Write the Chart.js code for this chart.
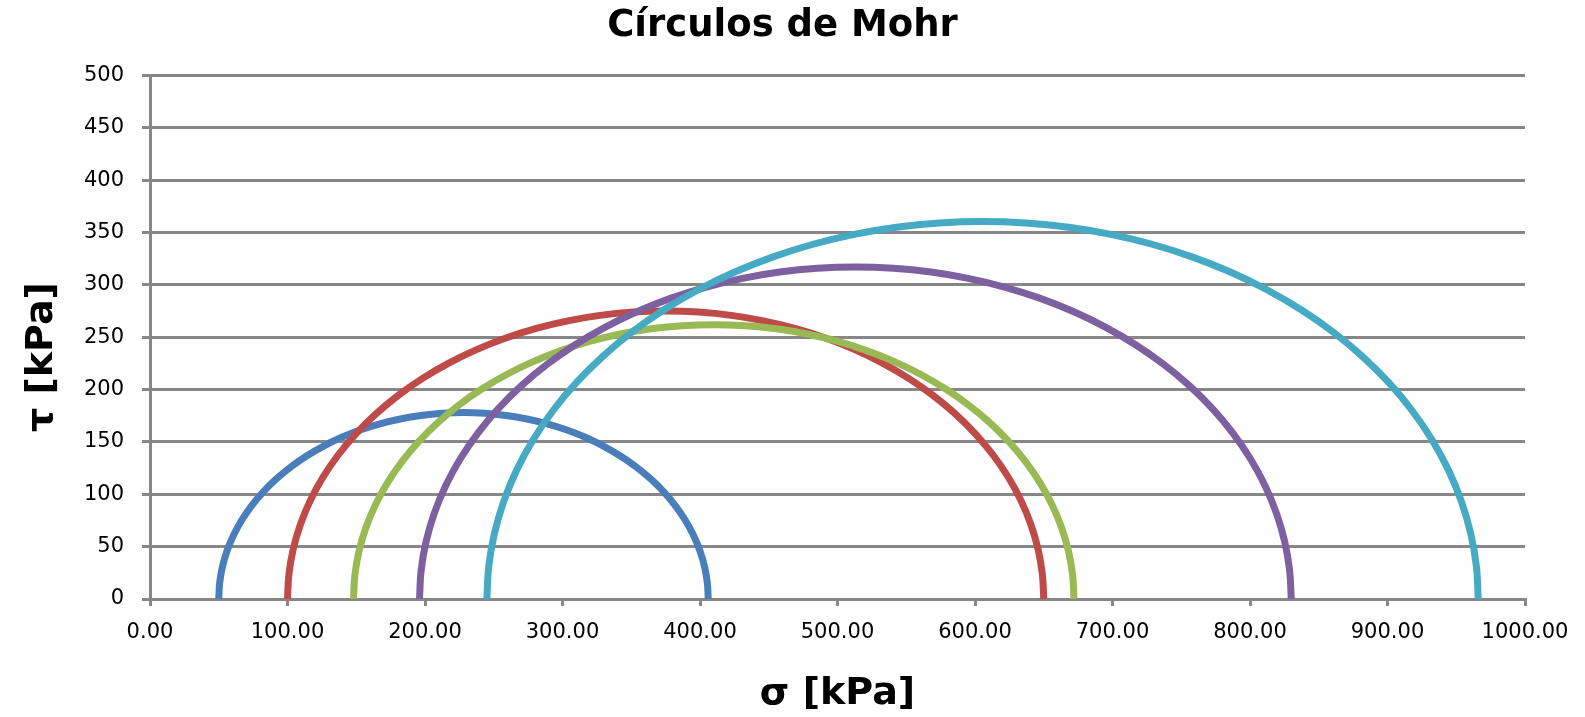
<!DOCTYPE html>
<html>
<head>
<meta charset="utf-8">
<script src="https://cdn.jsdelivr.net/npm/chart.js@4/dist/chart.umd.min.js"></script>
<style>
  html, body { margin: 0; padding: 0; background: #fff; }
  #wrap { width: 1585px; height: 717px; }
</style>
</head>
<body>
<div id="wrap"><canvas id="mohrChart"></canvas></div>
<script>
// principal stresses (kPa)
const circleNames = ['Círculo 1', 'Círculo 2', 'Círculo 3', 'Círculo 4', 'Círculo 5'];
const sigma3 = [50, 100, 148, 196, 245];
const sigma1 = [406, 650, 672, 830, 966];
const circleColors = ['#4a7ebb', '#be4b48', '#98b954', '#7d60a0', '#46aac5'];

const xTicks = [0, 100, 200, 300, 400, 500, 600, 700, 800, 900, 1000];
const yTicks = [0, 50, 100, 150, 200, 250, 300, 350, 400, 450, 500];

const gridGrey = '#878787';
const tickFont = { family: 'DejaVu Sans', size: 21 };
const titleFont = { family: 'DejaVu Sans', size: 38, weight: 'bold' };

// points of each Mohr semicircle, from its two principal stresses
function mohrPoints(s3, s1) {
    let c = (s1 + s3) / 2;
    let r = (s1 - s3) / 2;
    let pts = [];
    for (let a = 0; a <= 180; a += 5) {
        let t = a * Math.PI / 180;
        pts.push({ x: c + r * Math.cos(t), y: r * Math.sin(t) });
    }
    return pts;
}

let ctx = document.getElementById('mohrChart');

new Chart(ctx, {
    type: 'scatter',
    data: {
        datasets: circleNames.map((name, i) => ({
            label: name,
            data: mohrPoints(sigma3[i], sigma1[i]),
            showLine: true,
            borderColor: circleColors[i],
            backgroundColor: circleColors[i],
            borderWidth: 7,
            pointRadius: 0,
            tension: 0.4,
            order: -i
        }))
    },
    options: {
        responsive: true,
        maintainAspectRatio: false,
        animation: false,
        layout: {
            padding: { top: 0, left: 0, right: 20, bottom: 0 }
        },
        plugins: {
            legend: { display: false },
            tooltip: { enabled: false },
            title: {
                display: true,
                text: 'Círculos de Mohr',
                color: '#000',
                font: { family: 'DejaVu Sans', size: 37, weight: 'bold' },
                padding: { top: 4, bottom: 27 }
            }
        },
        scales: {
            x: {
                type: 'linear',
                min: 0,
                max: 1000,
                afterBuildTicks: (axis) => {
                    axis.ticks = xTicks.map(v => ({ value: v }));
                },
                afterFit: (axis) => {
                    axis.height = 118;
                    axis.paddingRight = 60;
                },
                ticks: {
                    color: '#000',
                    font: tickFont,
                    padding: 14,
                    maxRotation: 0,
                    callback: (v) => Number(v).toFixed(2)
                },
                grid: {
                    drawOnChartArea: false,
                    drawTicks: true,
                    tickLength: 7,
                    color: gridGrey,
                    lineWidth: 3
                },
                border: { color: gridGrey, width: 3 },
                title: {
                    display: true,
                    text: 'σ [kPa]',
                    color: '#000',
                    font: titleFont,
                    padding: { top: 0, bottom: 0 }
                }
            },
            y: {
                type: 'linear',
                min: 0,
                max: 500,
                afterBuildTicks: (axis) => {
                    axis.ticks = yTicks.map(v => ({ value: v }));
                },
                afterFit: (axis) => {
                    axis.width = 150;
                },
                ticks: {
                    color: '#000',
                    font: tickFont,
                    padding: 18
                },
                grid: {
                    color: gridGrey,
                    lineWidth: 3,
                    tickLength: 8
                },
                border: { color: gridGrey, width: 3 },
                title: {
                    display: true,
                    // trailing spaces push the label a little lower, as in the original
                    text: 'τ [kPa]\u00a0\u00a0\u00a0',
                    color: '#000',
                    font: titleFont,
                    padding: { top: 19, bottom: 0 }
                }
            }
        }
    }
});
</script>
</body>
</html>
